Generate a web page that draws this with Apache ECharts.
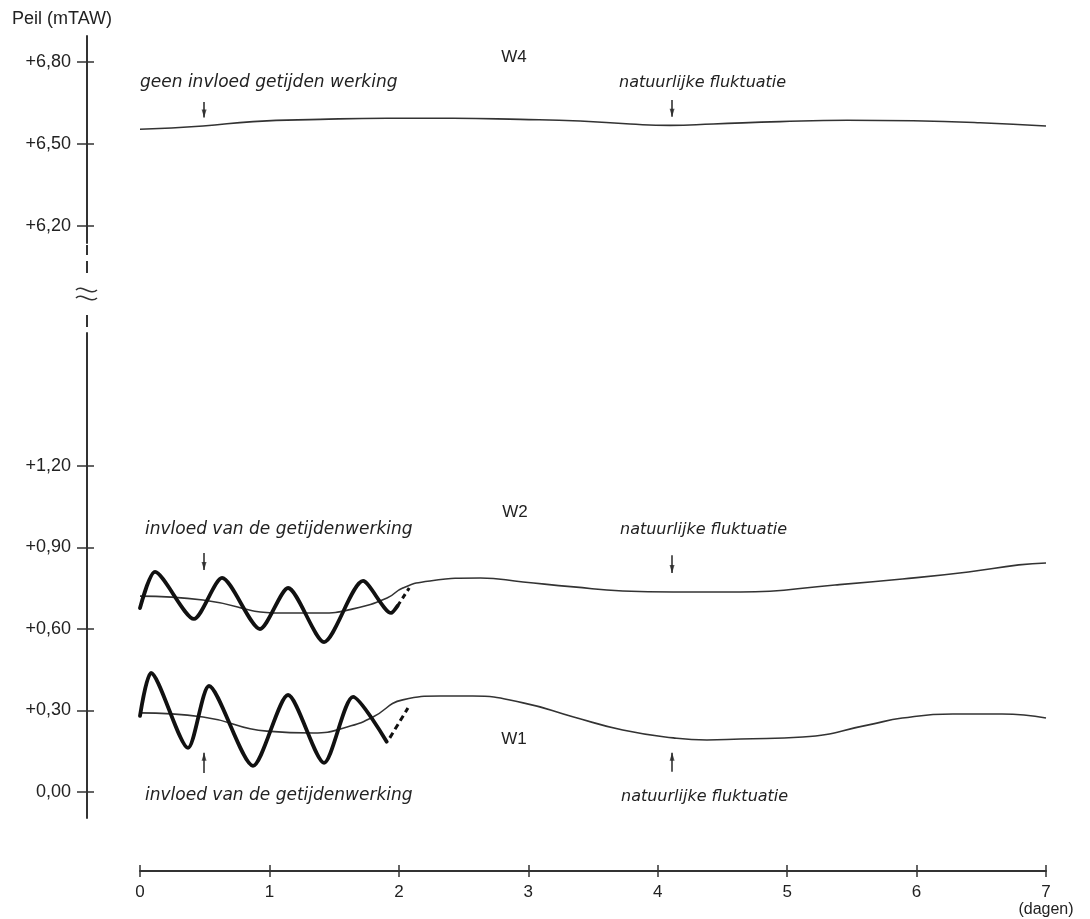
<!DOCTYPE html>
<html><head><meta charset="utf-8">
<script src="https://cdn.jsdelivr.net/npm/echarts@6/dist/echarts.min.js"></script>
<style>html,body{margin:0;padding:0;background:#fff}#c{width:1090px;height:919px}</style>
</head><body><div id="c"></div>
<script>
// ---- data (days, level in m TAW) ----
const dayTicks = [0, 1, 2, 3, 4, 5, 6, 7];
const topTicks = [6.2, 6.5, 6.8];
const bottomTicks = [0, 0.3, 0.6, 0.9, 1.2];

const w4 = [[0,6.554],[0.487,6.566],[0.873,6.582],[1.391,6.590],[1.909,6.594],[2.419,6.594],[2.937,6.590],[3.40,6.584],[3.787,6.573],[4.096,6.568],[4.428,6.573],[4.946,6.582],[5.464,6.587],[5.974,6.585],[6.491,6.578],[7.0,6.566]];

const w2Natural = [[0,0.721],[0.487,0.707],[1.082,0.659],[1.39,0.659],[1.646,0.674],[1.909,0.714],[2.03,0.751],[2.24,0.777],[2.63,0.788],[2.96,0.773],[3.35,0.755],[3.73,0.740],[4.12,0.736],[4.64,0.736],[5.37,0.762],[5.89,0.784],[6.40,0.810],[6.79,0.836],[7.0,0.843]];

const w1Natural = [[0,0.291],[0.487,0.276],[0.98,0.224],[1.34,0.217],[1.60,0.239],[1.80,0.276],[2.03,0.339],[2.32,0.353],[2.57,0.353],[2.96,0.328],[3.35,0.276],[3.73,0.228],[4.12,0.199],[4.38,0.191],[4.64,0.195],[5.12,0.202],[5.63,0.247],[5.89,0.272],[6.28,0.287],[6.66,0.287],[7.0,0.272]];

const w2Tidal = [[0,0.677],[0.116,0.810],[0.417,0.637],[0.634,0.788],[0.927,0.600],[1.144,0.751],[1.422,0.552],[1.723,0.777],[1.94,0.659],[1.99,0.685]];
const w2Link = [[1.99,0.685],[2.08,0.751]];

const w1Tidal = [[0,0.28],[0.085,0.438],[0.371,0.162],[0.533,0.390],[0.873,0.096],[1.144,0.357],[1.422,0.107],[1.646,0.350],[1.906,0.185]];
const w1Link = [[1.93,0.199],[2.07,0.309]];

// arrows: [day, from, to]
const w4Arrows = [[0.495,6.654,6.597],[4.111,6.661,6.600]];
const w2Arrows = [[0.495,0.880,0.817],[4.111,0.872,0.806]];
const w1Arrows = [[0.495,0.070,0.144],[4.111,0.074,0.144]];

// ---- styles ----
const INK = '#262626';
const LABEL_FONT = "'Liberation Sans', Arial, sans-serif";
const ITAL_FONT = "'DejaVu Sans', sans-serif";
const fmt = v => (v > 0.0001 ? '+' : '') + v.toFixed(2).replace('.', ',');

function arrowMark(list) {
  return {
    silent: true, animation: false,
    symbol: 'none',
    label: {show: false},
    lineStyle: {color: INK, width: 1.5, type: 'solid'},
    emphasis: {disabled: true},
    data: list.map(a => [{coord: [a[0], a[1]]}, {coord: [a[0], a[2]]}])
  };
}
function arrowHeads(list, xi, yi, down) {
  return {type: 'scatter', xAxisIndex: xi, yAxisIndex: yi, silent: true,
    data: list.map(a => [a[0], a[2]]),
    symbol: 'triangle', symbolSize: [5, 8], symbolRotate: down ? 180 : 0,
    symbolOffset: [0, down ? -4 : 4],
    itemStyle: {color: INK}, z: 5};
}

function yAxes(gridIndex, min, max, ticks) {
  return [
    {gridIndex, type: 'value', min, max, position: 'left', offset: 53,
     axisLine: {show: true, onZero: false, lineStyle: {color: '#333', width: 2}},
     axisTick: {show: true, length: 10, customValues: ticks, lineStyle: {color: '#333', width: 1.5}},
     axisLabel: {show: true, customValues: ticks, formatter: fmt, margin: 16,
                 fontFamily: LABEL_FONT, fontSize: 18, color: '#222'},
     splitLine: {show: false}},
    {gridIndex, type: 'value', min, max, position: 'left', offset: 53,
     axisLine: {show: false, onZero: false},
     axisTick: {show: true, inside: true, length: 7, customValues: ticks, lineStyle: {color: '#333', width: 1.5}},
     axisLabel: {show: false}, splitLine: {show: false}}
  ];
}

const txt = (text, x, y, size, italic, align) => ({
  type: 'text', x, y, silent: true,
  style: {text, fill: '#222', fontSize: size, fontFamily: italic ? ITAL_FONT : LABEL_FONT,
          fontStyle: italic ? 'italic' : 'normal', align: align || 'left', verticalAlign: 'middle'}
});
const seg = (x1, y1, x2, y2) => ({type: 'line', silent: true, shape: {x1, y1, x2, y2}, style: {stroke: '#333', lineWidth: 2}});
const wave = (y) => ({type: 'bezierCurve', silent: true,
  shape: {x1: 76, y1: y, x2: 97, y2: y, cpx1: 82, cpy1: y - 6, cpx2: 90, cpy2: y + 6},
  style: {stroke: '#333', lineWidth: 1.6, fill: null}});

const chart = echarts.init(document.getElementById('c'), null, {renderer: 'canvas'});
chart.setOption({
  animation: false,
  backgroundColor: '#fff',
  grid: [
    {left: 140, right: 44, top: 36, height: 207},
    {left: 140, right: 44, top: 333, height: 485}
  ],
  xAxis: [
    {gridIndex: 0, type: 'value', min: 0, max: 7, show: false, axisLine: {onZero: false}},
    {gridIndex: 1, type: 'value', min: 0, max: 7, interval: 1, position: 'bottom', offset: 53,
     axisLine: {show: true, onZero: false, lineStyle: {color: '#333', width: 2}},
     axisTick: {show: true, length: 6, lineStyle: {color: '#333', width: 1.5}},
     axisLabel: {show: true, margin: 13, fontFamily: LABEL_FONT, fontSize: 17, color: '#222', lineHeight: 17,
                 showMinLabel: true, showMaxLabel: true,
                 formatter: v => v === 7 ? '7\n{d|(dagen)}' : String(v),
                 rich: {d: {fontFamily: LABEL_FONT, fontSize: 16, color: '#222', lineHeight: 17}}},
     splitLine: {show: false}},
    {gridIndex: 1, type: 'value', min: 0, max: 7, interval: 1, position: 'bottom', offset: 53,
     axisLine: {show: false, onZero: false},
     axisTick: {show: true, inside: true, length: 6, lineStyle: {color: '#333', width: 1.5}},
     axisLabel: {show: false}, splitLine: {show: false}}
  ],
  yAxis: [].concat(yAxes(0, 6.138, 6.895, topTicks), yAxes(1, -0.096, 1.69, bottomTicks)),
  series: [
    {name: 'W4', type: 'line', xAxisIndex: 0, yAxisIndex: 0, data: w4, smooth: 0.5, showSymbol: false,
     lineStyle: {color: '#333', width: 1.6}, markLine: arrowMark(w4Arrows)},
    {name: 'W2', type: 'line', xAxisIndex: 1, yAxisIndex: 2, data: w2Natural, smooth: 0.5, showSymbol: false,
     lineStyle: {color: '#333', width: 1.6}, markLine: arrowMark(w2Arrows)},
    {name: 'W1', type: 'line', xAxisIndex: 1, yAxisIndex: 2, data: w1Natural, smooth: 0.5, showSymbol: false,
     lineStyle: {color: '#333', width: 1.6}, markLine: arrowMark(w1Arrows)},
    {name: 'W2 getij', type: 'line', xAxisIndex: 1, yAxisIndex: 2, data: w2Tidal, smooth: 0.25, showSymbol: false,
     lineStyle: {color: '#111', width: 3.8, cap: 'round', join: 'round'}},
    {name: 'W2 overgang', type: 'line', xAxisIndex: 1, yAxisIndex: 2, data: w2Link, showSymbol: false,
     lineStyle: {color: '#111', width: 3, type: [5, 4]}},
    {name: 'W1 getij', type: 'line', xAxisIndex: 1, yAxisIndex: 2, data: w1Tidal, smooth: 0.25, showSymbol: false,
     lineStyle: {color: '#111', width: 3.8, cap: 'round', join: 'round'}},
    {name: 'W1 overgang', type: 'line', xAxisIndex: 1, yAxisIndex: 2, data: w1Link, showSymbol: false,
     lineStyle: {color: '#111', width: 3, type: [6, 4]}},
    arrowHeads(w4Arrows, 0, 0, true),
    arrowHeads(w2Arrows, 1, 2, true),
    arrowHeads(w1Arrows, 1, 2, false)
  ],
  graphic: [
    txt('Peil (mTAW)', 12, 19, 18, false),
    seg(87, 245, 87, 255), seg(87, 261, 87, 273), seg(87, 315, 87, 327),
    wave(290), wave(298),
    txt('W4', 514, 57, 17, false, 'center'),
    txt('W2', 515, 512, 17, false, 'center'),
    txt('W1', 514, 739, 17, false, 'center'),
    txt('geen invloed getijden werking', 140, 83, 17, true),
    txt('natuurlijke fluktuatie', 619, 83, 16, true),
    txt('invloed van de getijdenwerking', 145, 530, 17, true),
    txt('natuurlijke fluktuatie', 620, 530, 16, true),
    txt('invloed van de getijdenwerking', 145, 796, 17, true),
    txt('natuurlijke fluktuatie', 621, 797, 16, true)
  ]
});
</script></body></html>
